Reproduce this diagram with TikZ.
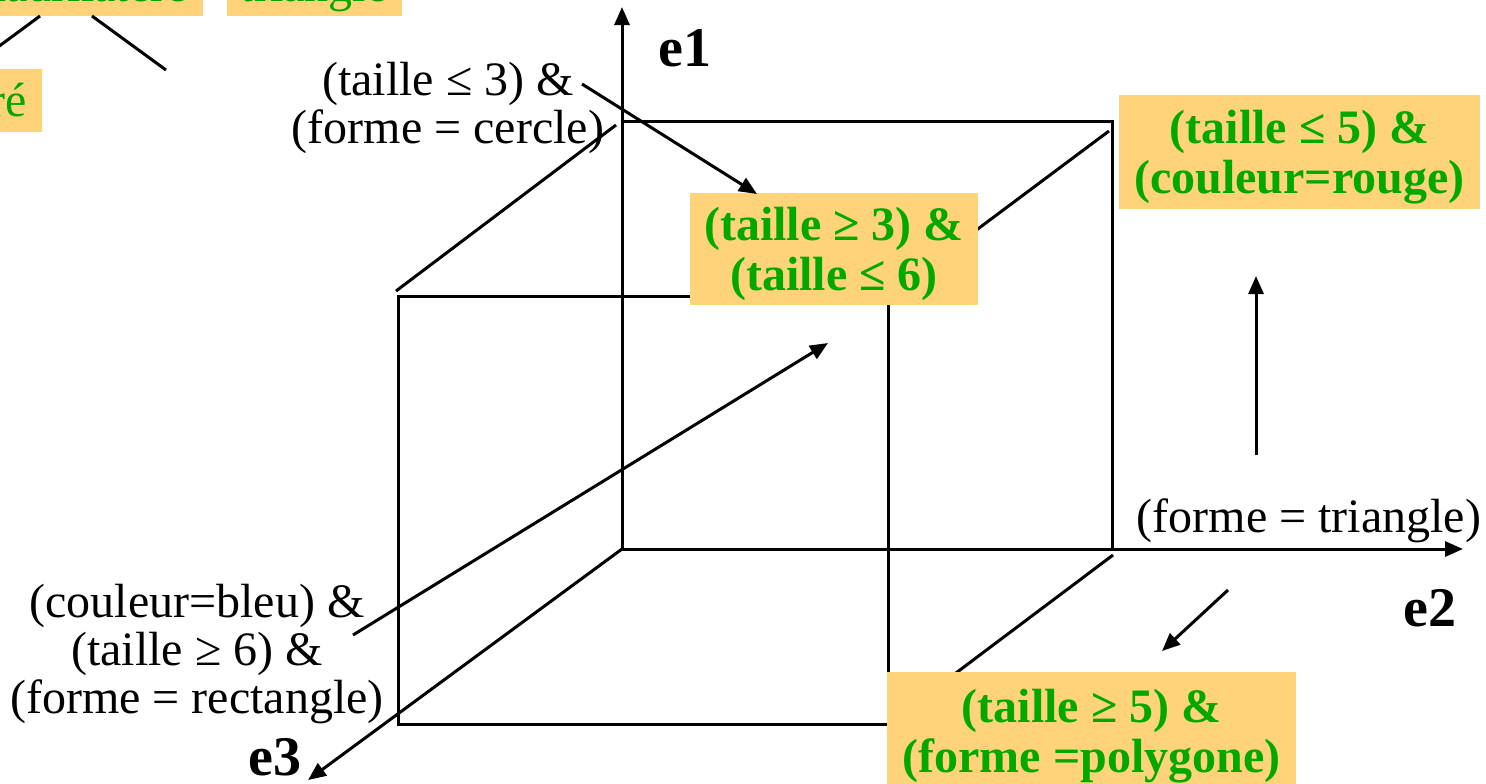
\documentclass[tikz,border=0pt]{standalone}
\usepackage{fontspec}
\setmainfont{Liberation Serif}
\usetikzlibrary{arrows.meta}
\definecolor{boxfill}{HTML}{FFD37A}
\definecolor{grn}{HTML}{00A800}
\begin{document}
\begin{tikzpicture}[x=0.5pt,y=-0.5pt,
  ln/.style={line width=1.5pt},
  arr/.style={line width=1.5pt,-{Triangle[length=9pt,width=7.5pt]}},
  hlbox/.style={fill=boxfill,inner sep=0pt},
  hl/.style={text=grn,font=\fontsize{24}{25}\selectfont\bfseries,align=center,inner sep=0pt},
  lab/.style={font=\fontsize{24}{24}\selectfont,align=center,inner sep=0pt},
  axl/.style={font=\fontsize{28}{28}\selectfont\bfseries,inner sep=0pt}]
\useasboundingbox (0,0) rectangle (1486,783);
\clip (0,0) rectangle (1486,783);

% cube corners
\coordinate (O) at (622,549);
\coordinate (BTL) at (622,121);
\coordinate (BTR) at (1112,121);
\coordinate (BBR) at (1112,549);
\coordinate (FTL) at (398,296);
\coordinate (FTR) at (888,296);
\coordinate (FBR) at (888,724);
\coordinate (FBL) at (398,724);

% back face (left & bottom edges are axes)
\draw[ln] (BTL) -- (BTR) -- (BBR);
% front face
\draw[ln] (FTL) rectangle (FBR);
% depth edges
\draw[ln] (616,125) -- (396,291);
\draw[ln] (1109,131) -- (FTR);
\draw[ln] (1113,555) -- (FBR);

% axes
\coordinate (E1) at (622,7);
\coordinate (E2) at (1463,549);
\coordinate (E3) at (308,780);
\draw[arr] (O) -- (E1);
\draw[arr] (O) -- (E2);
\draw[arr] (O) -- (E3);
\node[axl] (e1) at (685,48) {e1};
\node[axl] (e2) at (1430,608) {e2};
\node[axl] (e3) at (275,757) {e3};

% highlighted boxes
\node[hlbox,minimum width=144pt,minimum height=56pt] (b36) at (834,249) {};
\node[hl] (t36) at (834,254) {(taille ≥ 3) \&\\(taille ≤ 6)};
\node[hlbox,minimum width=180.5pt,minimum height=57pt] (b5r) at (1299.5,152) {};
\node[hl] (t5r) at (1299.5,157) {(taille ≤ 5) \&\\(couleur=rouge)};
\node[hlbox,minimum width=204.5pt,minimum height=59pt] (b5p) at (1091.5,731) {};
\node[hl] (t5p) at (1091.5,736) {(taille ≥ 5) \&\\(forme =polygone)};

% plain labels
\node[lab] (lcercle) at (448,108) {(taille ≤ 3) \&\\(forme = cercle)};
\node[lab] (lbleu) at (197,654) {(couleur=bleu) \&\\(taille ≥ 6) \&\\(forme = rectangle)};
\node[lab] (ltri) at (1309,521) {(forme = triangle)};

% arrows
\coordinate (a1s) at (582,84);
\coordinate (a1e) at (757,194);
\draw[arr] (a1s) -- (a1e);
\coordinate (a2s) at (353,635);
\coordinate (a2e) at (828,343);
\draw[arr] (a2s) -- (a2e);
\coordinate (a3s) at (1256,455);
\coordinate (a3e) at (1256,276);
\draw[arr] (a3s) -- (a3e);
\coordinate (a4s) at (1228,590);
\coordinate (a4e) at (1162,651);
\draw[arr] (a4s) -- (a4e);

% cropped fragment, top left
\fill[boxfill] (-80,-60) rectangle (203,16);
\node[text=grn,font=\fontsize{24}{24}\selectfont,inner sep=0pt,anchor=base east] (tq) at (188,1) {quadrilatère};
\fill[boxfill] (227,-60) rectangle (402,16);
\node[text=grn,font=\fontsize{24}{24}\selectfont,inner sep=0pt,anchor=base] (tt) at (314,1) {triangle};
\fill[boxfill] (-80,69) rectangle (42,132);
\node[text=grn,font=\fontsize{24}{24}\selectfont,inner sep=0pt,anchor=base east] (tc) at (27,116) {carré};
\coordinate (t1) at (40,16);
\coordinate (t1e) at (-2,47);
\coordinate (t2) at (92,16);
\coordinate (t2e) at (166,70);
\draw[ln] (t1) -- (t1e);
\draw[ln] (t2) -- (t2e);
\end{tikzpicture}
\end{document}
